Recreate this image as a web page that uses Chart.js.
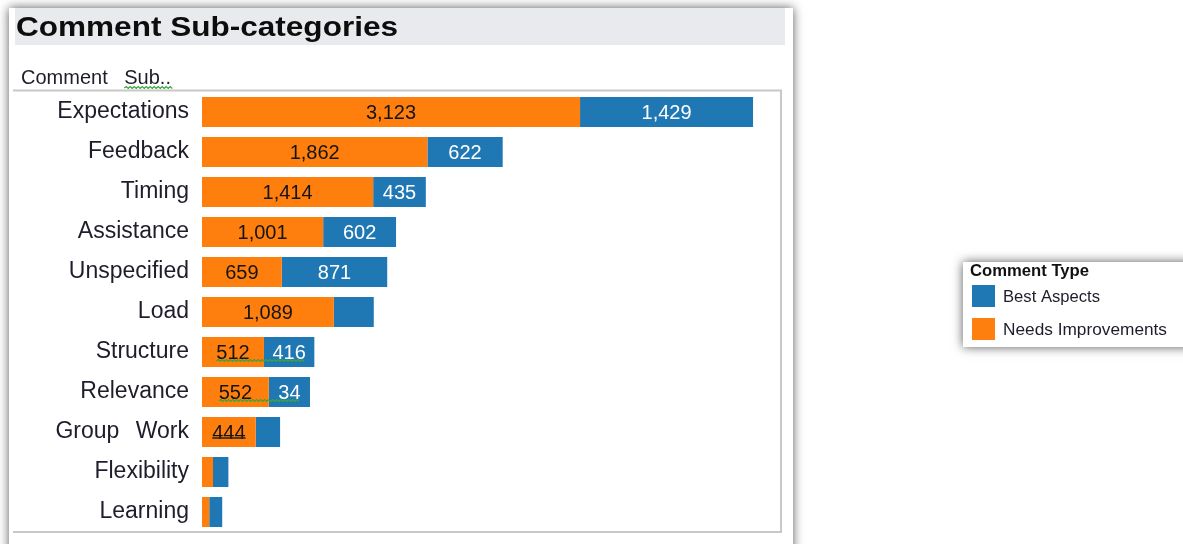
<!DOCTYPE html>
<html><head><meta charset="utf-8">
<script src="https://cdn.jsdelivr.net/npm/chart.js@4.4.1/dist/chart.umd.min.js"></script>
<style>html,body{margin:0;padding:0;background:#fff;}#wrap{position:relative;width:1183px;height:544px;}</style>
</head><body><div id="wrap"><canvas id="c"></canvas></div>
<script>
const chartTitle = 'Comment Sub-categories';
const axisHeader = 'Comment Sub..';
const legendTitle = 'Comment Type';
const categories = ['Expectations','Feedback','Timing','Assistance','Unspecified','Load','Structure','Relevance','Group Work','Flexibility','Learning'];
const needsImprovements = [3123,1862,1414,1001,659,1089,512,552,444,91,60];
const bestAspects = [1429,622,435,602,871,330,416,340,201,127,107];
const needsLabels = ['3,123','1,862','1,414','1,001','659','1,089','512','552','444','',''];
const bestLabels = ['1,429','622','435','602','871','','416','34','','',''];
const seriesNames = ['Needs Improvements','Best Aspects'];
const spellMarkedRows = ['Structure','Relevance'];
const underlinedRows = ['Group Work'];

const FONT = '"Liberation Sans", Arial, sans-serif';
const ORANGE = '#ff7f0e', BLUE = '#1f77b4';

function fitText(ctx, text, x, y, width){
  const w = ctx.measureText(text).width;
  ctx.save();
  ctx.translate(x, y);
  ctx.scale(width / w, 1);
  ctx.fillText(text, 0, 0);
  ctx.restore();
}
function squiggle(ctx, x0, x1, y, color){
  ctx.save();
  ctx.strokeStyle = color; ctx.lineWidth = 1.2;
  ctx.beginPath();
  let up = true;
  ctx.moveTo(x0, y);
  for (let x = x0 + 2; x <= x1; x += 2){ ctx.lineTo(x, up ? y - 1.5 : y + 0.5); up = !up; }
  ctx.stroke();
  ctx.restore();
}

const decor = {
  id: 'decor',
  beforeDraw(chart){
    const ctx = chart.ctx, a = chart.chartArea;
    ctx.save();
    ctx.fillStyle = '#fff';
    ctx.fillRect(0, 0, chart.width, chart.height);
    ctx.shadowColor = 'rgba(0,0,0,0.65)';
    ctx.shadowBlur = 10;
    ctx.fillRect(9, 8, 784, 640);
    ctx.fillRect(963, 262, 260, 85);
    ctx.restore();

    ctx.save();
    // title band
    ctx.fillStyle = '#e9eaee';
    ctx.fillRect(15, 8, 770, 37);
    ctx.fillStyle = '#0d0d0d';
    ctx.font = 'bold 27px ' + FONT;
    ctx.textBaseline = 'alphabetic';
    fitText(ctx, chartTitle, 16, 36, 382);
    // axis header
    ctx.font = '20px ' + FONT;
    ctx.fillStyle = '#1d1d2b';
    ctx.wordSpacing = '11px';
    ctx.fillText(axisHeader, 21, 84);
    const hw = ctx.measureText(axisHeader).width;
    const sw = ctx.measureText('Sub..').width;
    ctx.wordSpacing = '0px';
    squiggle(ctx, 21 + hw - sw, 21 + hw + 2, 88, '#3aa53a');
    // frame
    ctx.strokeStyle = '#c8c8c8';
    ctx.lineWidth = 2;
    ctx.beginPath();
    ctx.moveTo(13, a.top - 1.5);
    ctx.lineTo(a.right, a.top - 1.5);
    ctx.lineTo(a.right, a.bottom);
    ctx.lineTo(13, a.bottom);
    ctx.stroke();
    // legend
    ctx.fillStyle = '#111';
    ctx.font = 'bold 16px ' + FONT;
    ctx.textBaseline = 'middle';
    fitText(ctx, legendTitle, 970, 272, 119);
    const ds = chart.data.datasets.slice().reverse();
    const widths = [97, 164];
    ds.forEach((d, i) => {
      const y = 285 + i * 33;
      ctx.fillStyle = d.backgroundColor;
      ctx.fillRect(972, y, 23, 22);
      ctx.fillStyle = '#1d1d2b';
      ctx.font = '17px ' + FONT;
      fitText(ctx, d.label, 1003, y + 12, widths[i]);
    });
    ctx.restore();
    ctx.wordSpacing = '10px';
  },
  afterDatasetsDraw(chart){
    const ctx = chart.ctx;
    ctx.save();
    ctx.wordSpacing = '0px';
    ctx.font = '20px ' + FONT;
    ctx.textAlign = 'center';
    ctx.textBaseline = 'middle';
    const labelSets = [needsLabels, bestLabels];
    const colors = ['#141414', '#ffffff'];
    const bounds = categories.map(() => ({l: Infinity, r: -Infinity, y: 0}));
    chart.data.datasets.forEach((d, di) => {
      const meta = chart.getDatasetMeta(di);
      meta.data.forEach((el, i) => {
        const t = labelSets[di][i];
        if (!t) return;
        const cx = (el.x + el.base) / 2;
        ctx.fillStyle = colors[di];
        ctx.fillText(t, cx, el.y + 1);
        const w = ctx.measureText(t).width;
        bounds[i].l = Math.min(bounds[i].l, cx - w / 2);
        bounds[i].r = Math.max(bounds[i].r, cx + w / 2);
        bounds[i].y = el.y;
      });
    });
    categories.forEach((c, i) => {
      if (spellMarkedRows.includes(c)) squiggle(ctx, bounds[i].l, bounds[i].r, bounds[i].y + 9, '#3aa53a');
      if (underlinedRows.includes(c)) {
        ctx.strokeStyle = '#222'; ctx.lineWidth = 1.3;
        ctx.beginPath();
        ctx.moveTo(bounds[i].l, bounds[i].y + 6);
        ctx.lineTo(bounds[i].r, bounds[i].y + 6);
        ctx.stroke();
      }
    });
    ctx.restore();
  }
};

new Chart(document.getElementById('c'), {
  type: 'bar',
  data: {
    labels: categories,
    datasets: [
      { label: seriesNames[0], data: needsImprovements, backgroundColor: ORANGE, borderWidth: 0 },
      { label: seriesNames[1], data: bestAspects, backgroundColor: BLUE, borderWidth: 0 }
    ]
  },
  options: {
    indexAxis: 'y',
    responsive: true,
    maintainAspectRatio: false,
    animation: false,
    events: [],
    layout: { padding: { left: 12, right: 402, top: 92, bottom: 12 } },
    datasets: { bar: { categoryPercentage: 1, barPercentage: 0.75 } },
    plugins: { legend: { display: false }, tooltip: { enabled: false }, title: { display: false } },
    scales: {
      x: { stacked: true, display: false, min: 0, max: 4783 },
      y: {
        stacked: true,
        grid: { display: false, drawTicks: false },
        border: { display: false },
        ticks: { color: '#1d1d2b', font: { family: FONT, size: 23 }, padding: 13, autoSkip: false },
        afterFit(scale){ scale.width = 190; scale.paddingTop = 0; scale.paddingBottom = 0; }
      }
    }
  },
  plugins: [decor]
});
</script>
</body></html>
